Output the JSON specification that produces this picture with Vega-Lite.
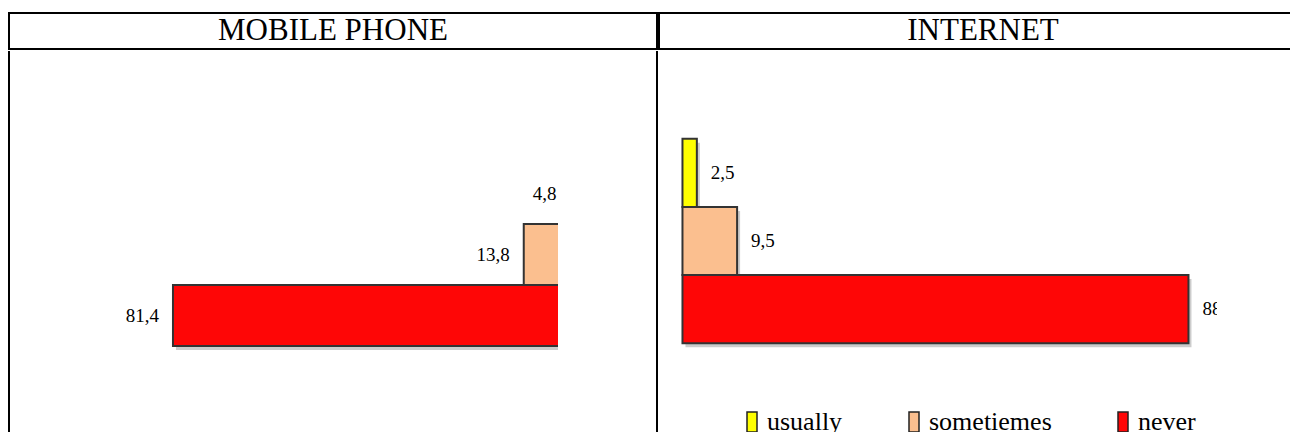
{
  "$schema": "https://vega.github.io/schema/vega-lite/v6.json",
  "padding": {"left": 8, "top": 12, "right": 0, "bottom": 0},
  "spacing": 0,
  "config": {
    "font": "Liberation Serif",
    "locale": {"number": {"decimal": ",", "thousands": " ", "grouping": [3], "currency": ["", ""]}},
    "view": {"stroke": null},
    "concat": {"spacing": 0}
  },
  "datasets": {
    "survey": [
      {"device": "MOBILE PHONE", "freq": "usually", "pct": 4.8},
      {"device": "MOBILE PHONE", "freq": "sometiemes", "pct": 13.8},
      {"device": "MOBILE PHONE", "freq": "never", "pct": 81.4},
      {"device": "INTERNET", "freq": "usually", "pct": 2.5},
      {"device": "INTERNET", "freq": "sometiemes", "pct": 9.5},
      {"device": "INTERNET", "freq": "never", "pct": 88.0}
    ]
  },
  "vconcat": [
    {
      "hconcat": [
        {
          "width": 648, "height": 36,
          "view": {"stroke": "#000", "strokeWidth": 2},
          "data": {"values": [{"cell": "MOBILE PHONE"}]},
          "mark": {"type": "text", "font": "Liberation Serif", "fontSize": 31, "color": "#000", "baseline": "middle"},
          "encoding": {"text": {"field": "cell", "type": "nominal"}}
        },
        {
          "width": 648, "height": 36,
          "view": {"stroke": "#000", "strokeWidth": 2},
          "data": {"values": [{"cell": "INTERNET"}]},
          "mark": {"type": "text", "font": "Liberation Serif", "fontSize": 31, "color": "#000", "baseline": "middle"},
          "encoding": {"text": {"field": "cell", "type": "nominal"}}
        }
      ],
      "spacing": 0
    },
    {
      "hconcat": [
        {
          "width": 549, "height": 400,
          "view": {"stroke": "#000", "strokeWidth": 2, "strokeDash": [0, 1498, 400, 0]},
          "data": {"name": "survey"},
          "transform": [{"filter": "datum.device === 'MOBILE PHONE'"}],
          "encoding": {
            "x": {"field": "pct", "type": "quantitative",
                  "scale": {"domain": [7.2, 113.0], "reverse": true, "zero": false, "nice": false},
                  "axis": null},
            "y": {"field": "freq", "type": "nominal", "sort": ["usually", "sometiemes", "never"],
                  "scale": {"range": [112, 295], "paddingInner": 0, "paddingOuter": 0},
                  "axis": null}
          },
          "layer": [
            {"mark": {"type": "bar", "clip": true, "color": "#000", "opacity": 0.2, "xOffset": 3, "x2Offset": 3, "yOffset": 4},
             "encoding": {"x2": {"datum": 0}}},
            {"mark": {"type": "bar", "clip": true, "stroke": "#333", "strokeWidth": 2},
             "encoding": {"x2": {"datum": 0},
                          "color": {"field": "freq", "type": "nominal",
                                    "scale": {"domain": ["usually", "sometiemes", "never"], "range": ["#ffff00", "#fbbf8f", "#fe0606"]},
                                    "legend": null}}},
            {"mark": {"type": "text", "clip": true, "align": "right", "baseline": "middle", "dx": -14, "fontSize": 19, "font": "Liberation Serif", "color": "#000"},
             "encoding": {"text": {"field": "pct", "type": "quantitative", "format": ".1f"}}}
          ]
        },
        {
          "width": 560, "height": 400,
          "view": {"stroke": "#000", "strokeWidth": 2, "strokeDash": [0, 1520, 400, 0]},
          "data": {"name": "survey"},
          "transform": [{"filter": "datum.device === 'INTERNET'"}],
          "encoding": {
            "x": {"field": "pct", "type": "quantitative",
                  "scale": {"domain": [-4.43, 92.96], "zero": false, "nice": false},
                  "axis": null},
            "y": {"field": "freq", "type": "nominal", "sort": ["usually", "sometiemes", "never"],
                  "scale": {"range": [87.7, 292.3], "paddingInner": 0, "paddingOuter": 0},
                  "axis": null}
          },
          "layer": [
            {"mark": {"type": "bar", "clip": true, "color": "#000", "opacity": 0.2, "xOffset": 3, "x2Offset": 3, "yOffset": 4},
             "encoding": {"x2": {"datum": 0}}},
            {"mark": {"type": "bar", "clip": true, "stroke": "#333", "strokeWidth": 2},
             "encoding": {"x2": {"datum": 0},
                          "color": {"field": "freq", "type": "nominal",
                                    "scale": {"domain": ["usually", "sometiemes", "never"], "range": ["#ffff00", "#fbbf8f", "#fe0606"]},
                                    "legend": {"orient": "none", "legendX": 82, "legendY": 358, "direction": "horizontal", "title": null,
                                               "symbolType": "M-0.5,-1H0.5V1H-0.5Z", "symbolSize": 400,
                                               "symbolStrokeColor": "#222", "symbolStrokeWidth": 1.5, "symbolOpacity": 1,
                                               "labelFont": "Liberation Serif", "labelFontSize": 26, "labelColor": "#000",
                                               "labelOffset": 2, "columnPadding": 58, "labelLimit": 0, "padding": 0}}}},
            {"mark": {"type": "text", "clip": true, "align": "left", "baseline": "middle", "dx": 14, "fontSize": 19, "font": "Liberation Serif", "color": "#000"},
             "encoding": {"text": {"field": "pct", "type": "quantitative", "format": ".1f"}}}
          ]
        }
      ],
      "spacing": 97,
      "resolve": {"scale": {"color": "independent", "x": "independent", "y": "independent"}, "legend": {"color": "independent"}}
    }
  ]
}
